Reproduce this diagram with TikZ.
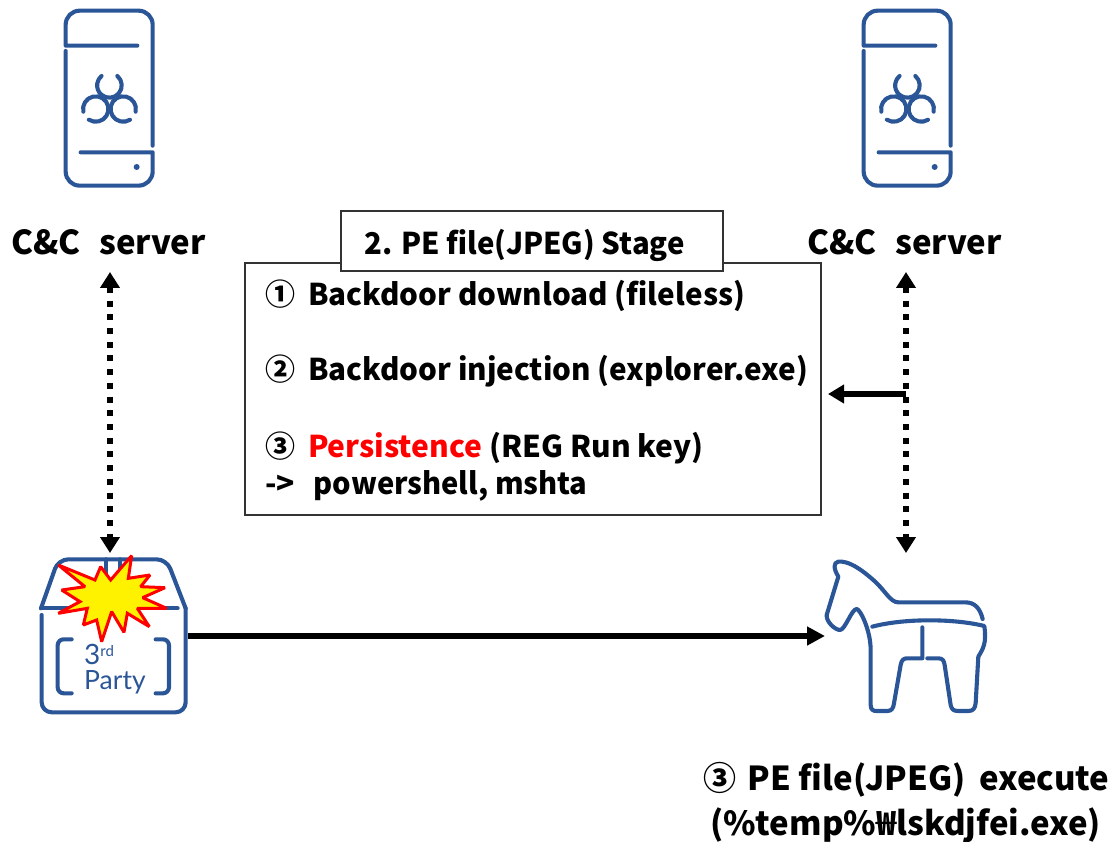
\documentclass[tikz,border=0pt]{standalone}
\usepackage{fontspec}
\setmainfont{Noto Sans CJK KR}
\newfontfamily\logofont{Lato}
\usetikzlibrary{arrows.meta}
\definecolor{iconblue}{HTML}{2A5597}
\tikzset{
  iconline/.style={draw=iconblue,line width=4.1pt,line cap=round,line join=round},
  zoomed/.style={x=0.3333pt,y=-0.3333pt},
  label/.style={anchor=base west,inner sep=0pt,font=\fontsize{30}{34}\selectfont\bfseries,text=black},
  biglabel/.style={label,font=\fontsize{33}{36}\selectfont\bfseries},
  plainbox/.style={draw=black!80,line width=1.5pt,fill=white},
  dotlink/.style={line width=6pt,dash pattern=on 6pt off 7.7pt,{Triangle[length=16pt,width=19pt]}-{Triangle[length=16pt,width=19pt]}},
  flow/.style={line width=6pt,-{Triangle[length=18pt,width=18pt]}},
}
\newcommand{\phoneicon}[1]{%
  \begin{scope}[shift={(#1,0)},zoomed]
    \draw[iconline] (322,137) -- (107,137) [rounded corners=14pt] -- (107,32) -- (368,32) [sharp corners] -- (368,437);
    \draw[iconline] (152,457) -- (368,457) [rounded corners=14pt] -- (368,557) -- (107,557) [sharp corners] -- (107,153);
    \fill[iconblue] (320,501) circle (3pt);
    \draw[iconline] (262,228) arc[start angle=50,end angle=-230,radius=12.3pt];
    \draw[iconline] (160,335) arc[start angle=192,end angle=-123,radius=12.7pt];
    \draw[iconline] (317,335) arc[start angle=-12,end angle=302,radius=12.7pt];
  \end{scope}}
\begin{document}
\begin{tikzpicture}[x=1pt,y=-1pt]
\useasboundingbox (0,0) rectangle (1117,842);
% phones
\phoneicon{30}
\phoneicon{828}
% labels
\node[biglabel] (c2l) at (11,255) {C\&C\hspace{11pt} server};
\node[biglabel] (c2r) at (807,255) {C\&C\hspace{11pt} server};
% boxes
\node[plainbox,minimum width=576pt,minimum height=252pt,inner sep=0pt] (mainbox) at (533,389) {};
\node[plainbox,minimum width=382pt,minimum height=60pt,inner sep=0pt] (titlebox) at (532,241) {};
\node[label] (title) at (364,255) {\scalebox{0.978}[1]{2. PE file(JPEG) Stage}};
\node[label] (l1) at (265,306) {① \hspace{6pt}\scalebox{0.988}[1]{Backdoor download (fileless)}};
\node[label] (l2) at (265,381) {② \hspace{6pt}\scalebox{0.988}[1]{Backdoor injection (explorer.exe)}};
\node[label] (l3) at (265,457) {③ \hspace{6pt}\textcolor{red}{Persistence} (REG Run key)};
\node[label] (l4) at (265,494) {-> \hspace{12pt}\scalebox{0.97}[1]{powershell, mshta}};
\node[biglabel] (b1) at (703,790) {③ \hspace{4pt}PE file(JPEG) \hspace{6pt}execute};
\node[biglabel] (b2) at (710,835) {(\%temp\%₩lskdjfei.exe)};
% 3rd party box
\begin{scope}[shift={(20,530)},zoomed]
  \draw[iconline,rounded corners=10pt] (63,235) -- (115,88) -- (440,88) -- (497,235);
  \draw[iconline] (63,235) -- (473,235);
  \draw[iconline] (258,88) -- (258,140);
  \draw[iconline] (300,88) -- (300,140);
  \draw[iconline] (65,255) [rounded corners=10pt] -- (65,547) -- (497,547) [sharp corners] -- (497,235);
  \draw[iconline,rounded corners=6pt] (155,328) -- (113,328) -- (113,490) -- (155,490);
  \draw[iconline,rounded corners=6pt] (407,328) -- (447,328) -- (447,490) -- (407,490);
\end{scope}
\begin{scope}[shift={(50,545)},zoomed]
  \draw[draw=red,fill=yellow,line width=3pt,line join=miter,miter limit=2]
    (25,60) -- (135,105) -- (152,65) -- (182,105) -- (245,32) -- (235,100) -- (300,90) -- (272,125) -- (345,128) -- (278,158) -- (350,190) -- (262,190) -- (298,245) -- (232,205) -- (222,262) -- (185,200) -- (155,290) -- (140,225) -- (100,240) -- (112,190) -- (25,205) -- (90,170) -- (35,135) -- (105,125) -- cycle;
\end{scope}
\node[anchor=base west,inner sep=0pt,text=iconblue,font=\logofont\fontsize{28}{30}\selectfont] (third) at (84,664) {3\raisebox{8pt}{\fontsize{15}{16}\selectfont rd}};
\node[anchor=base west,inner sep=0pt,text=iconblue,font=\logofont\fontsize{26.5}{30}\selectfont] (party) at (84,689) {Party};
% horse
\begin{scope}[shift={(810,540)},zoomed]
  \draw[iconline] (518,237) .. controls (510,205) and (495,187) .. (465,187) -- (265,187) .. controls (240,187) and (225,150) .. (190,120) .. controls (150,85) and (115,62) .. (85,65) .. controls (70,68) and (70,85) .. (85,110) -- (50,225) .. controls (48,245) and (75,270) .. (90,270) .. controls (105,270) and (125,207) .. (140,207) .. controls (150,207) and (182,270) .. (182,330) -- (182,495) .. controls (182,510) and (190,513) .. (200,513) -- (232,513) .. controls (245,513) and (250,505) .. (252,490) -- (272,375) .. controls (275,360) and (280,355) .. (292,355) -- (337,355) -- (337,262);
  \draw[iconline] (352,355) -- (385,355) .. controls (398,355) and (402,362) .. (404,375) -- (422,495) .. controls (425,508) and (430,513) .. (445,513) -- (475,513) .. controls (490,513) and (495,505) .. (497,490) -- (505,350) .. controls (520,325) and (530,310) .. (523,258) .. controls (430,235) and (280,235) .. (187,260);
\end{scope}
% connector ends
\coordinate (ltop) at (110,272);
\coordinate (lbot) at (110,553);
\coordinate (rtop) at (906,272);
\coordinate (rbot) at (906,553);
\coordinate (rmid) at (906,394);
\coordinate (boxr) at (828,394);
\coordinate (boxe) at (188,636);
\coordinate (horse) at (825,636);
\draw[dotlink] (ltop) -- (lbot);
\draw[dotlink] (rtop) -- (rbot);
\draw[line width=6pt,-{Triangle[length=16pt,width=18pt]}] (rmid) -- (boxr);
\draw[flow] (boxe) -- (horse);
\end{tikzpicture}
\end{document}
